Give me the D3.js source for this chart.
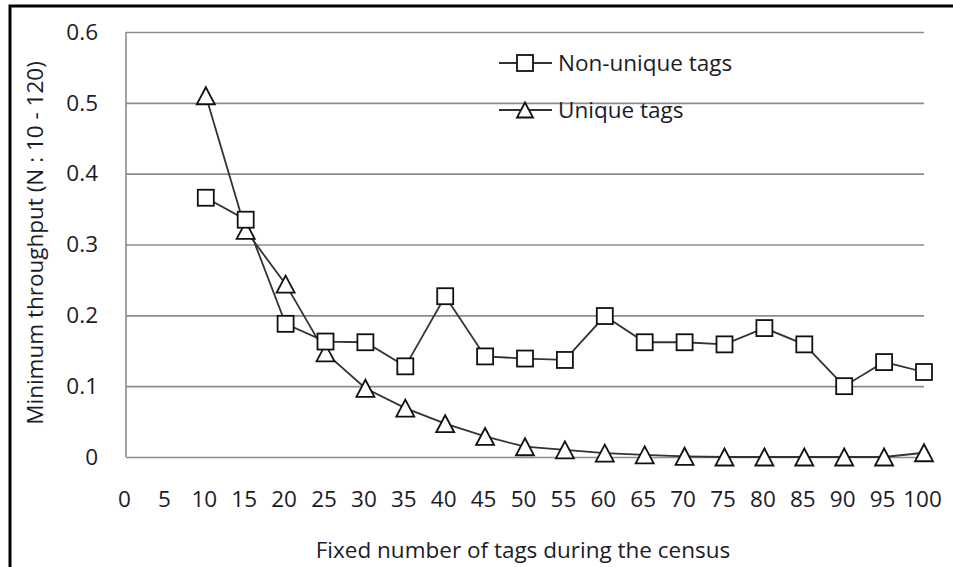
<!DOCTYPE html>
<html>
<head>
<meta charset="utf-8">
<script src="https://cdn.jsdelivr.net/npm/d3@7"></script>
<style>
  html, body { margin: 0; padding: 0; background: #fff; }
  svg { display: block; }
  text { font-family: "Open Sans", Lato, sans-serif; fill: #1c1c28; }
</style>
</head>
<body>
<svg id="chart" width="953" height="567"></svg>
<script>
// ---- data ----
const categories = [0, 5, 10, 15, 20, 25, 30, 35, 40, 45, 50, 55, 60, 65, 70, 75, 80, 85, 90, 95, 100];
const dataX = [10, 15, 20, 25, 30, 35, 40, 45, 50, 55, 60, 65, 70, 75, 80, 85, 90, 95, 100];
const nonUniqueTags = [0.366, 0.335, 0.188, 0.163, 0.162, 0.128, 0.227, 0.142, 0.139, 0.137, 0.199, 0.162, 0.162, 0.159, 0.182, 0.159, 0.100, 0.134, 0.120];
const uniqueTags = [0.51, 0.32, 0.244, 0.147, 0.097, 0.069, 0.047, 0.029, 0.0145, 0.01, 0.0055, 0.003, 0.001, 0.0, 0.0, 0.0, 0.0, 0.0, 0.006];
const yTicks = [0, 0.1, 0.2, 0.3, 0.4, 0.5, 0.6];
const seriesNames = ["Non-unique tags", "Unique tags"];
const xTitle = "Fixed number of tags during the census";
const yTitle = "Minimum throughput (N : 10 - 120)";

// ---- layout ----
const svg = d3.select("#chart");
const pL = 126, pR = 924, pT = 32, pB = 457;
const FS = 22.5;

const x = d3.scalePoint().domain(categories).range([pL, pR]);
const y = d3.scaleLinear().domain([0, 0.6]).range([pB, pT]);

// outer frame (only left/top visible)
svg.append("path")
  .attr("d", `M10,580 L10,6 L970,6`)
  .attr("fill", "none").attr("stroke", "#000").attr("stroke-width", 3);

// gridlines
const gridAxis = d3.axisLeft(y).tickValues(yTicks).tickSize(-(pR - pL)).tickFormat("");
const gg = svg.append("g").attr("transform", `translate(${pL},0)`).call(gridAxis);
gg.select(".domain").remove();
gg.selectAll("line").attr("stroke", "#8c8c8c").attr("stroke-width", 1.6);

// left border of plot area
svg.append("line").attr("x1", pL).attr("x2", pL).attr("y1", pT).attr("y2", pB)
  .attr("stroke", "#8c8c8c").attr("stroke-width", 1.6);

// y tick labels
const yAxis = d3.axisLeft(y).tickValues(yTicks).tickSize(0).tickPadding(28)
  .tickFormat(d => d === 0 ? "0" : d3.format(".1f")(d));
const ya = svg.append("g").attr("transform", `translate(${pL},0)`).call(yAxis);
ya.select(".domain").remove();
ya.selectAll("text").attr("font-size", FS).attr("font-family", "'Open Sans', sans-serif").attr("fill", "#1c1c28");

// x tick labels
const xAxis = d3.axisBottom(x).tickSize(0).tickPadding(34);
const xa = svg.append("g").attr("transform", `translate(-2,${pB})`).call(xAxis);
xa.select(".domain").remove();
xa.selectAll("text").attr("font-size", FS).attr("font-family", "'Open Sans', sans-serif").attr("fill", "#1c1c28");

// axis titles
svg.append("text").attr("x", 523).attr("y", 558).attr("text-anchor", "middle")
  .attr("font-size", FS).text(xTitle);
svg.append("text").attr("transform", "translate(43,243) rotate(-90)").attr("text-anchor", "middle")
  .attr("font-size", FS).text(yTitle);

// series
const line = d3.line().x(d => x(d[0])).y(d => y(d[1]));
const s1 = dataX.map((c, i) => [c, nonUniqueTags[i]]);
const s2 = dataX.map((c, i) => [c, uniqueTags[i]]);

svg.append("path").attr("d", line(s2)).attr("fill", "none").attr("stroke", "#333").attr("stroke-width", 1.8);
svg.append("path").attr("d", line(s1)).attr("fill", "none").attr("stroke", "#333").attr("stroke-width", 1.8);

const sq = 16;
const triPath = "M0,-8.5 L9,8.5 L-9,8.5 Z";

svg.append("g").selectAll("path").data(s2).join("path")
  .attr("d", triPath)
  .attr("transform", d => `translate(${x(d[0])},${y(d[1])})`)
  .attr("fill", "#fff").attr("stroke", "#111").attr("stroke-width", 1.8);

svg.append("g").selectAll("rect").data(s1).join("rect")
  .attr("x", d => x(d[0]) - sq / 2).attr("y", d => y(d[1]) - sq / 2)
  .attr("width", sq).attr("height", sq)
  .attr("fill", "#fff").attr("stroke", "#111").attr("stroke-width", 1.8);

// legend
const lg = svg.append("g");
const legendRows = [{ name: seriesNames[0], y: 63, m: "sq" }, { name: seriesNames[1], y: 110, m: "tri" }];
legendRows.forEach(r => {
  lg.append("line").attr("x1", 499).attr("x2", 552).attr("y1", r.y).attr("y2", r.y)
    .attr("stroke", "#333").attr("stroke-width", 1.8);
  if (r.m === "sq") {
    lg.append("rect").attr("x", 525 - 8).attr("y", r.y - 8).attr("width", 16).attr("height", 16)
      .attr("fill", "#fff").attr("stroke", "#111").attr("stroke-width", 1.8);
  } else {
    lg.append("path").attr("d", "M0,-7.5 L8,7.5 L-8,7.5 Z").attr("transform", `translate(525,${r.y})`)
      .attr("fill", "#fff").attr("stroke", "#111").attr("stroke-width", 1.8);
  }
  lg.append("text").attr("x", 558).attr("y", r.y).attr("dy", "0.36em")
    .attr("font-size", FS).text(r.name);
});
</script>
</body>
</html>
